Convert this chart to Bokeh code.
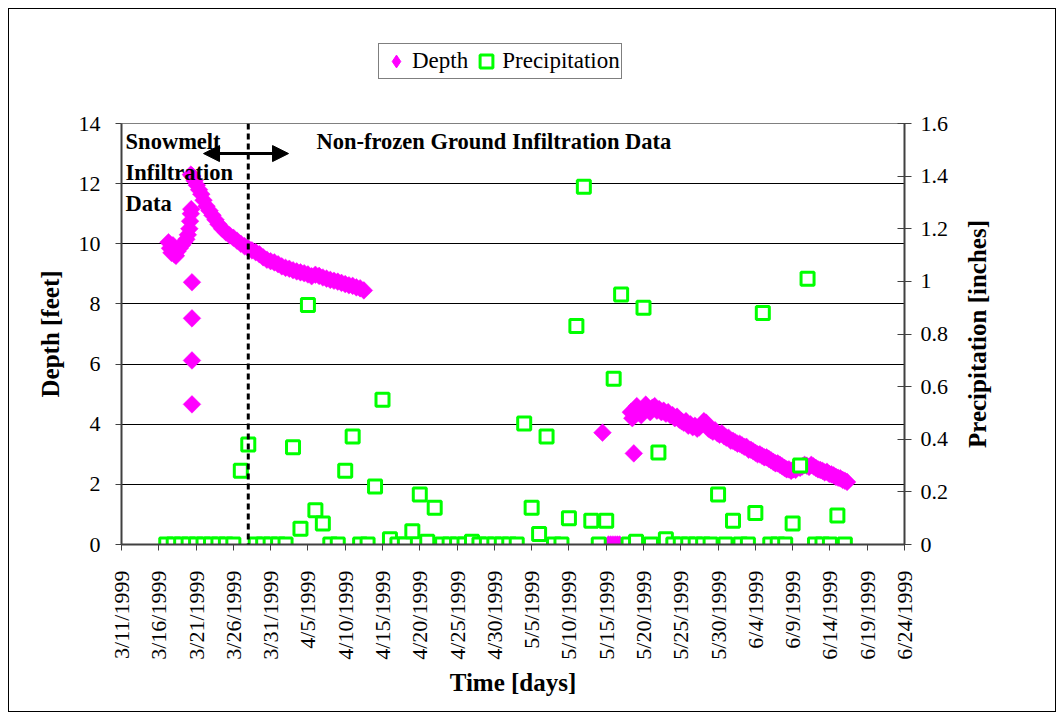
import math
import pandas as pd
from bokeh.plotting import figure
from bokeh.layouts import column, row
from bokeh.models import (Range1d, LinearAxis, FixedTicker, Span, Arrow, NormalHead,
                          Label, Legend, LegendItem)
from bokeh.embed import file_html
from bokeh.resources import INLINE

# ---------------- data ----------------
base_date = "3/11/1999"
end_date = "6/24/1999"
tick_labels = ["3/11/1999", "3/16/1999", "3/21/1999", "3/26/1999", "3/31/1999", "4/5/1999",
               "4/10/1999", "4/15/1999", "4/20/1999", "4/25/1999", "4/30/1999", "5/5/1999",
               "5/10/1999", "5/15/1999", "5/20/1999", "5/25/1999", "5/30/1999", "6/4/1999",
               "6/9/1999", "6/14/1999", "6/19/1999", "6/24/1999"]

depth_ticks = [0, 2, 4, 6, 8, 10, 12, 14]
precip_ticks = [0, 0.2, 0.4, 0.6, 0.8, 1.0, 1.2, 1.4, 1.6]
precip_tick_labels = ["0", "0.2", "0.4", "0.6", "0.8", "1", "1.2", "1.4", "1.6"]
series_names = ["Depth", "Precipitation"]

# depth: time in days after 3/11/1999, depth in feet
depth_day = [6.3, 6.5, 6.7, 6.9, 7.1, 7.3, 7.5, 7.8, 8.1, 8.4, 8.7, 8.9, 9.1, 9.2, 9.3, 9.35,
             9.45, 9.45, 9.45, 9.45,
             9.3, 9.5, 9.8, 10.1, 10.4, 10.7, 11.0, 11.4, 11.8, 12.2, 12.6, 13.0, 13.5, 14.0,
             14.5, 15.0, 15.5, 16.0, 16.5, 17.0, 17.5, 18.0, 18.5, 19.0, 19.5, 20.0, 20.5,
             21.0, 21.5, 22.0, 22.5, 23.0, 23.5, 24.0, 24.5, 25.0, 25.5, 26.0, 26.5, 27.0,
             27.5, 28.0, 28.5, 29.0, 29.5, 30.0, 30.5, 31.0, 31.5, 32.0, 32.5,
             64.5, 65.3, 65.6, 65.9, 66.2, 66.5, 66.8, 68.7,
             68.3, 68.5, 68.8, 69.1, 69.4, 69.7, 70.0, 70.3, 70.6, 70.9, 71.2, 71.5, 71.8,
             72.1, 72.4, 72.7, 73.0, 73.3, 73.6, 73.9, 74.2, 74.5, 74.8, 75.1, 75.4, 75.7,
             76.0, 76.3, 76.6, 76.9, 77.2, 77.5, 77.8, 78.1, 78.4, 78.7, 79.0, 79.3, 79.6,
             79.9, 80.2, 80.5, 80.8, 81.1, 81.4, 81.7, 82.0, 82.3, 82.6, 82.9, 83.2, 83.5,
             83.8, 84.1, 84.4, 84.7, 85.0, 85.3, 85.6, 85.9, 86.2, 86.5, 86.8, 87.1, 87.4,
             87.7, 88.0, 88.3, 88.6, 88.9, 89.2, 89.5, 89.8, 90.1, 90.4, 91.0, 91.3, 91.6,
             91.9, 92.2, 92.5, 92.8, 93.1, 93.4, 93.7, 94.0, 94.3, 94.6, 94.9, 95.2, 95.5,
             95.8, 96.1, 96.4, 96.7, 97.0, 97.3]
depth_ft = [10.05, 9.85, 9.70, 9.95, 9.65, 9.60, 9.75, 9.85, 9.95, 10.05, 10.15, 10.30, 10.50,
            10.75, 11.00, 11.15,
            8.72, 7.52, 6.12, 4.66,
            12.30, 12.25, 12.10, 11.95, 11.80, 11.65, 11.45, 11.25, 11.10, 10.95, 10.80, 10.65,
            10.50, 10.38, 10.28, 10.20, 10.10, 10.00, 9.92, 9.85, 9.78, 9.72, 9.65, 9.55, 9.47,
            9.42, 9.38, 9.32, 9.25, 9.20, 9.17, 9.12, 9.08, 9.05, 9.02, 8.98, 8.92, 8.97, 8.93,
            8.88, 8.84, 8.80, 8.77, 8.74, 8.70, 8.66, 8.62, 8.60, 8.55, 8.52, 8.45,
            3.72, 0, 0, 0, 0, 0, 0, 3.03,
            4.40, 4.20, 4.45, 4.60, 4.45, 4.30, 4.50, 4.65, 4.50, 4.40, 4.55, 4.60, 4.45,
            4.50, 4.40, 4.45, 4.35, 4.40, 4.30, 4.30, 4.20, 4.25, 4.15, 4.10, 4.05, 4.10,
            3.95, 4.00, 3.90, 3.95, 3.85, 3.90, 4.00, 4.10, 4.05, 3.85, 3.80, 3.75, 3.80,
            3.70, 3.65, 3.70, 3.60, 3.55, 3.55, 3.45, 3.45, 3.40, 3.35, 3.35, 3.30, 3.25,
            3.25, 3.15, 3.15, 3.10, 3.05, 3.00, 3.00, 2.95, 2.90, 2.90, 2.85, 2.80, 2.75,
            2.70, 2.70, 2.65, 2.60, 2.55, 2.50, 2.50, 2.45, 2.50, 2.48, 2.55, 2.60, 2.65,
            2.62, 2.58, 2.65, 2.60, 2.55, 2.50, 2.48, 2.45, 2.40, 2.42, 2.35, 2.33, 2.30,
            2.25, 2.22, 2.20, 2.15, 2.12, 2.08]

# precipitation: daily values starting 3/17/1999 (inches)
precip_start = "3/17/1999"
precip_in = [0, 0, 0, 0, 0, 0, 0, 0, 0, 0,          # 3/17 - 3/26
             0.28, 0.38,                            # 3/27 - 3/28
             0, 0, 0, 0, 0,                         # 3/29 - 4/2
             0.37, 0.06, 0.91, 0.13, 0.08,          # 4/3 - 4/7
             0, 0, 0.28, 0.41, 0, 0,                # 4/8 - 4/13
             0.22, 0.55, 0.02, 0, 0,                # 4/14 - 4/18
             0.05, 0.19, 0.01, 0.14,                # 4/19 - 4/22
             0, 0, 0, 0, 0.01, 0, 0, 0, 0, 0, 0,    # 4/23 - 5/3
             0.46, 0.14, 0.04, 0.41, 0, 0,          # 5/4 - 5/9
             0.10, 0.83, 1.36, 0.09, 0, 0.09,       # 5/10 - 5/15
             0.63, 0.95, 0, 0.01, 0.90, 0, 0.35, 0.02,  # 5/16 - 5/23
             0, 0, 0, 0, 0, 0,                      # 5/24 - 5/29
             0.19, 0, 0.09, 0, 0, 0.12, 0.88,       # 5/30 - 6/5
             0, 0, 0, 0.08, 0.30, 1.01,             # 6/6 - 6/11
             0, 0, 0, 0.11, 0]                      # 6/12 - 6/16

boundary_date = "3/28/1999"
arrow_from_day, arrow_to_day, arrow_depth = 11.0, 22.4, 13.0

# ---------------- derived x positions ----------------
base = pd.to_datetime(base_date)
tick_x = [(pd.to_datetime(t) - base).days for t in tick_labels]
x_end = (pd.to_datetime(end_date) - base).days
p0 = (pd.to_datetime(precip_start) - base).days
precip_x = [p0 + i for i in range(len(precip_in))]
boundary_x = (pd.to_datetime(boundary_date) - base).days

SERIF = "Liberation Serif"
MAGENTA = "#FF00FF"
GREEN = "#00FF00"
TOP_H = 111
MAIN_H = 720 - TOP_H
LEFT_B, FRAME_W, RIGHT_B, STRIP_W = 121, 783, 60, 100


def bare(fig):
    fig.outline_line_color = None
    fig.xgrid.visible = False
    fig.ygrid.visible = False


# ---------------- legend strip (top) ----------------
lg = figure(width=LEFT_B + FRAME_W + RIGHT_B + STRIP_W, height=TOP_H, output_backend="svg",
            toolbar_location=None, x_range=Range1d(0, 1), y_range=Range1d(0, 1),
            x_axis_type=None, y_axis_type=None,
            min_border_left=LEFT_B, min_border_right=RIGHT_B + STRIP_W,
            min_border_top=0, min_border_bottom=0,
            background_fill_color=None, border_fill_color=None)
bare(lg)
ld = lg.scatter(depth_day[:1], depth_ft[:1], marker="diamond", size=14,
                fill_color=MAGENTA, line_color=MAGENTA)
lp = lg.scatter(precip_x[:1], precip_in[:1], marker="square", size=13, line_width=3,
                line_color=GREEN, fill_color="white")
legend = Legend(items=[LegendItem(label=series_names[0], renderers=[ld]),
                       LegendItem(label=series_names[1], renderers=[lp])],
                orientation="horizontal", location=(378 - LEFT_B, TOP_H - 79))
legend.border_line_color = "black"
legend.border_line_width = 1
legend.background_fill_color = "white"
legend.background_fill_alpha = 1
legend.label_text_font = SERIF
legend.label_text_font_size = "23px"
legend.label_text_color = "black"
legend.glyph_width = 32
legend.glyph_height = 32
legend.padding = 1
legend.spacing = 2
legend.label_standoff = 0
legend.margin = 0
lg.add_layout(legend, "center")

# ---------------- main chart ----------------
p = figure(width=LEFT_B + FRAME_W + RIGHT_B, height=MAIN_H, output_backend="svg",
           toolbar_location=None, x_range=Range1d(0, x_end), y_range=Range1d(0, 14),
           min_border_left=LEFT_B, min_border_top=12, min_border_right=RIGHT_B,
           min_border_bottom=176, background_fill_color=None, border_fill_color=None)
p.outline_line_color = "#808080"
p.outline_line_width = 1
p.extra_y_ranges = {"precip": Range1d(0, 1.6)}

p.xgrid.visible = False
p.ygrid.ticker = FixedTicker(ticks=depth_ticks)
p.ygrid.grid_line_color = "black"
p.ygrid.grid_line_width = 1

xa = p.xaxis[0]
xa.ticker = FixedTicker(ticks=tick_x)
xa.major_label_overrides = {x: lab for x, lab in zip(tick_x, tick_labels)}
xa.major_label_orientation = math.pi / 2
xa.axis_label = "Time [days]"

ya = p.yaxis[0]
ya.ticker = FixedTicker(ticks=depth_ticks)
ya.axis_label = "Depth [feet]"

ra = LinearAxis(y_range_name="precip", ticker=FixedTicker(ticks=precip_ticks),
                major_label_overrides={v: s for v, s in zip(precip_ticks, precip_tick_labels)})
p.add_layout(ra, "right")

for ax in (xa, ya, ra):
    ax.axis_line_color = "#404040"
    ax.axis_line_width = 2
    ax.major_tick_line_color = "#404040"
    ax.major_tick_line_width = 1
    ax.minor_tick_line_color = None
    ax.major_label_text_font = SERIF
    ax.major_label_text_font_size = "22px"
    ax.major_label_text_color = "black"
    ax.axis_label_text_font = SERIF
    ax.axis_label_text_font_size = "25px"
    ax.axis_label_text_font_style = "bold"
    ax.axis_label_text_color = "black"

xa.major_tick_in = 0
xa.major_tick_out = 6
xa.major_label_standoff = 20
xa.axis_label_standoff = 6
ya.major_tick_in = 0
ya.major_tick_out = 6
ya.major_label_standoff = 15
ya.axis_label_standoff = 12
ra.major_tick_in = 7
ra.major_tick_out = 7
ra.major_label_standoff = 9

r_depth = p.scatter(depth_day, depth_ft, marker="square", angle=math.pi / 4, size=12.5,
                    fill_color=MAGENTA, line_color=MAGENTA, line_width=0.5)
r_precip = p.scatter(precip_x, precip_in, marker="square", size=13, line_width=3,
                     line_color=GREEN, fill_color="white", y_range_name="precip")

p.add_layout(Span(location=boundary_x, dimension="height", line_color="black",
                  line_width=3, line_dash="6 4"))
p.add_layout(Arrow(start=NormalHead(size=16, fill_color="black", line_color="black"),
                   end=NormalHead(size=16, fill_color="black", line_color="black"),
                   x_start=arrow_from_day, x_end=arrow_to_day,
                   y_start=arrow_depth, y_end=arrow_depth, line_width=3, line_color="black"))

for txt, xx, yy in [("Snowmelt", 0.55, 13.4), ("Infiltration", 0.55, 12.37),
                    ("Data", 0.55, 11.34), ("Non-frozen Ground Infiltration Data", 26.15, 13.4)]:
    p.add_layout(Label(x=xx, y=yy, text=txt, text_font=SERIF, text_font_style="bold",
                       text_font_size="22.5px", text_baseline="middle", text_color="black"))

# ---------------- right strip with the secondary axis title ----------------
rs = figure(width=STRIP_W, height=MAIN_H, output_backend="svg", toolbar_location=None,
            x_range=Range1d(0, 1), y_range=Range1d(0, 1), x_axis_type=None, y_axis_type=None,
            min_border_left=0, min_border_right=0, min_border_top=12, min_border_bottom=176,
            background_fill_color=None, border_fill_color=None)
bare(rs)
rs.add_layout(Label(x=0.13, y=0.5, text="Precipitation [inches]", angle=math.pi / 2,
                    text_font=SERIF, text_font_style="bold", text_font_size="25px",
                    text_align="center", text_baseline="middle", text_color="black"))

layout = column(lg, row(p, rs, spacing=0), spacing=0)
layout.styles = {"outline": "1px solid black", "outline-offset": "-9px"}

open("out.html", "w").write(file_html(layout, INLINE))
